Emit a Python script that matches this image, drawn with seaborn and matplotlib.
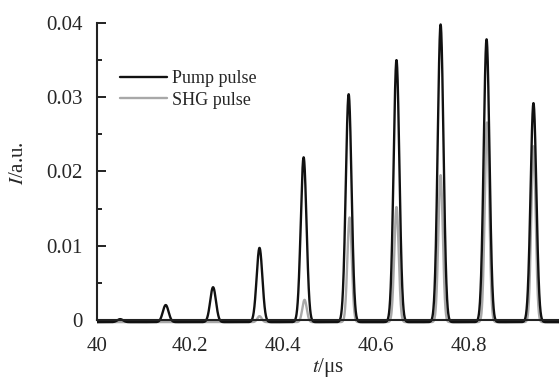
import numpy as np
import pandas as pd
import matplotlib
matplotlib.use("Agg")
import matplotlib.pyplot as plt
from matplotlib.ticker import MultipleLocator, FuncFormatter
import seaborn as sns

# Pulse centres (us) and peak intensities (a.u.)
pump_t = [40.05, 40.148, 40.25, 40.35, 40.445, 40.542, 40.645, 40.740, 40.839, 40.940]
pump_peak = [0.0004, 0.0023, 0.0047, 0.0100, 0.0222, 0.0307, 0.0353, 0.0401, 0.0381, 0.0295]
shg_t = [40.35, 40.447, 40.544, 40.645, 40.740, 40.840, 40.940]
shg_peak = [0.0008, 0.0030, 0.0141, 0.0155, 0.0198, 0.0269, 0.0237]
pump_width = 0.0062   # Gaussian sigma, us
shg_width = 0.0048
baseline = -0.0003

series_names = ["Pump pulse", "SHG pulse"]
xticks = [40, 40.2, 40.4, 40.6, 40.8]

t = np.linspace(40.0, 41.0, 4001)


def pulse_train(centres, peaks, sigma):
    y = np.full_like(t, baseline)
    for c, p in zip(centres, peaks):
        y += p * np.exp(-0.5 * ((t - c) / sigma) ** 2)
    return y


df = pd.concat([
    pd.DataFrame({"t": t, "I": pulse_train(pump_t, pump_peak, pump_width), "s": series_names[0]}),
    pd.DataFrame({"t": t, "I": pulse_train(shg_t, shg_peak, shg_width), "s": series_names[1]}),
])

sns.set_style("ticks")
plt.rcParams["font.family"] = ["Liberation Serif", "DejaVu Serif"]
plt.rcParams["mathtext.fontset"] = "stix"

fig = plt.figure(figsize=(5.59, 3.78), dpi=100)
ax = fig.add_axes([0.1735, 0.1243, 0.8265, 0.8247])

palette = {series_names[0]: "#111111", series_names[1]: "#a8a8a8"}
sns.lineplot(data=df, x="t", y="I", hue="s", palette=palette, linewidth=1.7,
             ax=ax, estimator=None, sort=False, hue_order=series_names[::-1],
             legend=False)

ax.set_xlim(40.0, 40.995)
ax.set_ylim(-0.0015, 0.0405)

ax.spines["top"].set_visible(False)
ax.spines["right"].set_visible(False)
ax.spines["bottom"].set_position(("data", 0))
ax.spines["left"].set_bounds(0, 0.04)
for sp in ("left", "bottom"):
    ax.spines[sp].set_linewidth(1.5)
    ax.spines[sp].set_color("#222222")

ax.yaxis.set_major_locator(MultipleLocator(0.01))
ax.yaxis.set_minor_locator(MultipleLocator(0.005))
ax.yaxis.set_major_formatter(FuncFormatter(lambda v, p: "0" if abs(v) < 1e-12 else f"{v:g}"))
ax.set_xticks(xticks)
ax.set_xticklabels([f"{v:g}" for v in xticks])

ax.tick_params(axis="y", which="major", direction="in", length=6.5, width=1.4,
               labelsize=15, pad=10, color="#222222")
ax.tick_params(axis="y", which="minor", direction="in", length=3.5, width=1.4,
               color="#222222")
ax.tick_params(axis="x", length=0, labelsize=15, pad=12)

ax.set_xlabel(r"$t$/μs", fontsize=15)
ax.set_ylabel(r"$I$/a.u.", fontsize=15)
ax.xaxis.set_label_coords(0.5, -0.08)
ax.yaxis.set_label_coords(-0.15, 0.54)

handles = [plt.Line2D([], [], color=palette[n], linewidth=1.7) for n in series_names]
ax.legend(handles, series_names, loc="upper left", bbox_to_anchor=(0.035, 0.86),
          frameon=False, fontsize=13, handlelength=2.6, handletextpad=0.25,
          labelspacing=0.25, borderaxespad=0)

fig.savefig("out.png", dpi=100)
